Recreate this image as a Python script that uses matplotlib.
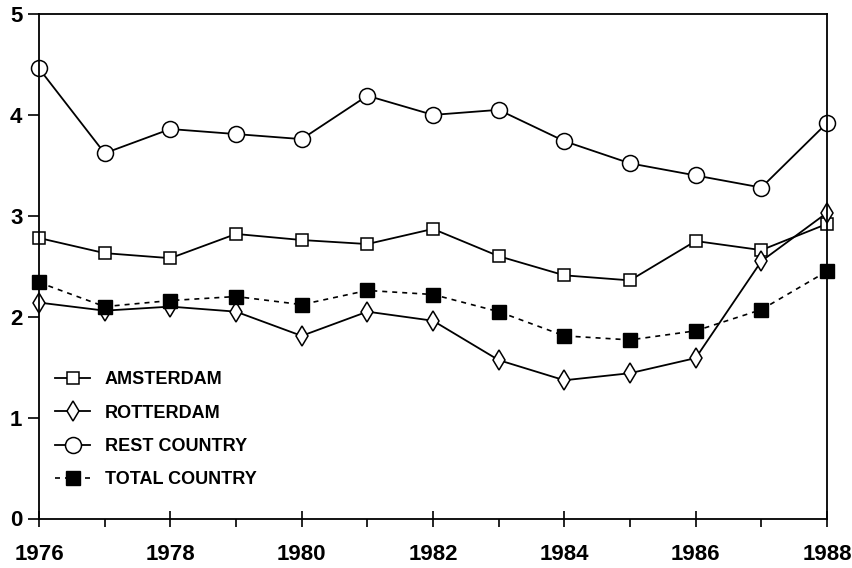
import matplotlib.pyplot as plt
from matplotlib.ticker import MultipleLocator

years = list(range(1976, 1989))
amsterdam = [2.78, 2.63, 2.58, 2.82, 2.76, 2.72, 2.87, 2.60, 2.41, 2.36, 2.75, 2.66, 2.92]
rotterdam = [2.14, 2.06, 2.10, 2.05, 1.81, 2.05, 1.96, 1.57, 1.37, 1.44, 1.59, 2.55, 3.03]
rest_country = [4.46, 3.62, 3.86, 3.81, 3.76, 4.19, 4.00, 4.05, 3.74, 3.52, 3.40, 3.28, 3.92]
total_country = [2.34, 2.10, 2.16, 2.20, 2.12, 2.26, 2.22, 2.05, 1.81, 1.77, 1.86, 2.07, 2.45]

plt.rcParams['font.family'] = ['Liberation Sans', 'DejaVu Sans']
plt.rcParams['font.weight'] = 'bold'

fig = plt.figure(figsize=(8.53, 5.68), dpi=100)
ax = fig.add_axes([39 / 853, 1 - 518.5 / 568, (827 - 39) / 853, (518.5 - 14) / 568])

ax.plot(years, amsterdam, color='black', lw=1.3, marker='s', ms=9,
        mfc='white', mec='black', mew=1.1, label='AMSTERDAM', clip_on=False)
ax.plot(years, rotterdam, color='black', lw=1.3, marker='d', ms=10,
        mfc='white', mec='black', mew=1.1, label='ROTTERDAM', clip_on=False)
ax.plot(years, rest_country, color='black', lw=1.3, marker='o', ms=11.5,
        mfc='white', mec='black', mew=1.1, label='REST COUNTRY', clip_on=False)
ax.plot(years, total_country, color='black', lw=1.2, ls=(0, (3, 3)), marker='s', ms=10,
        mfc='black', mec='black', label='TOTAL COUNTRY', clip_on=False)

ax.set_xlim(1976, 1988)
ax.set_ylim(0, 5)
ax.xaxis.set_major_locator(MultipleLocator(2))
ax.xaxis.set_minor_locator(MultipleLocator(1))
ax.yaxis.set_major_locator(MultipleLocator(1))
ax.tick_params(axis='x', which='major', direction='inout', length=12, width=1.2,
               labelsize=16, pad=12)
ax.tick_params(axis='x', which='minor', direction='out', length=6, width=1.2)
ax.tick_params(axis='y', which='major', direction='out', length=8, width=1.2,
               labelsize=16, pad=4)
for s in ax.spines.values():
    s.set_linewidth(1.3)

leg = ax.legend(loc='lower left', bbox_to_anchor=(0.0, 0.028), frameon=False,
                fontsize=13, handlelength=1.95, handletextpad=0.8, labelspacing=0.9)
for t in leg.get_texts():
    t.set_fontweight('bold')

fig.savefig('out.png', dpi=100)
